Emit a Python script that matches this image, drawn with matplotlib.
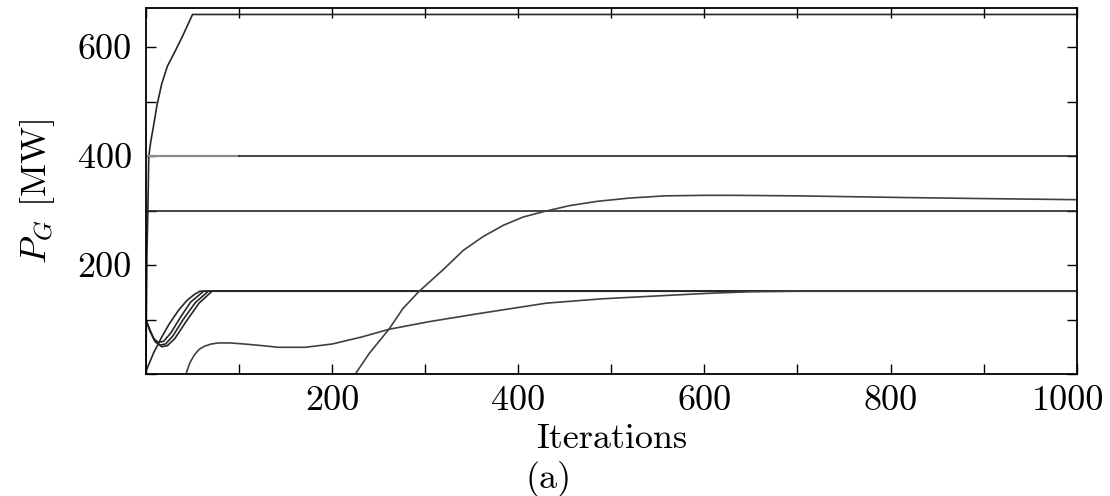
"""Generator output P_G versus iteration count, panel (a)."""

import matplotlib
matplotlib.use("Agg")
import matplotlib.pyplot as plt
from matplotlib.ticker import FuncFormatter, MultipleLocator

plt.rcParams["font.family"] = ["cmr10", "DejaVu Serif"]
plt.rcParams["mathtext.fontset"] = "cm"
plt.rcParams["axes.formatter.use_mathtext"] = True

# unit ramping up to its 660 MW limit
top_it = [0, 1, 2, 3, 5, 8, 12, 17, 23, 30, 39, 50, 1000]
top_mw = [0, 220, 295, 399, 425, 454, 495, 533, 565, 588, 619, 660, 660]

# flat units
flat400_gray_it = [0, 100]
flat400_it = [100, 1000]
flat400_mw = [400, 400]
flat300_it = [0, 1000]
flat300_mw = [300, 300]

# units converging on ~152 MW
lin_it = [0, 8, 17, 25, 35, 44, 52, 58, 1000]
lin_mw = [5, 38, 68, 92, 117, 135, 146, 152, 152]
dip_a_it = [0, 4, 8, 13, 19, 27, 37, 48, 62, 1000]
dip_a_mw = [100, 82, 66, 58, 60, 76, 104, 132, 152, 152]
dip_b_it = [0, 4, 9, 15, 21, 29, 40, 53, 67, 1000]
dip_b_mw = [99, 80, 62, 53, 55, 70, 100, 131, 152, 152]
dip_c_it = [0, 5, 10, 17, 23, 31, 43, 57, 71, 1000]
dip_c_mw = [98, 77, 59, 50, 52, 65, 96, 130, 152, 152]

# slow unit, comes online around iteration 43
slow_it = [43, 47, 52, 57, 63, 70, 78, 90, 106, 125, 142, 171, 200, 232, 261,
           304, 358, 430, 490, 557, 603, 650, 700, 1000]
slow_mw = [0, 20, 35, 45, 51, 55, 57, 57, 55, 52, 49, 49, 55, 68, 82,
           96, 111, 130, 138, 144, 148, 151, 152, 152]

# late unit, comes online around iteration 225
late_it = [225, 240, 261, 276, 293, 319, 341, 362, 384, 405, 427, 455, 485,
           520, 557, 600, 629, 700, 812, 900, 1000]
late_mw = [0, 38, 82, 120, 151, 191, 227, 252, 273, 288, 298, 309, 317,
           323, 327, 328, 328, 327, 324, 322, 320]

fig = plt.figure(figsize=(11.1, 4.96), dpi=100)
ax = fig.add_axes([0.1315, 0.246, 0.8385, 0.738])

lw = 1.2
dark = "0.15"
ax.plot(top_it, top_mw, color=dark, lw=lw)
ax.plot(flat400_gray_it, flat400_mw, color="0.55", lw=lw + 0.4)
ax.plot(flat400_it, flat400_mw, color=dark, lw=lw)
ax.plot(flat300_it, flat300_mw, color=dark, lw=lw)
for xs, ys in [(lin_it, lin_mw), (dip_a_it, dip_a_mw),
               (dip_b_it, dip_b_mw), (dip_c_it, dip_c_mw)]:
    ax.plot(xs, ys, color=dark, lw=lw)
ax.plot(slow_it, slow_mw, color="0.25", lw=lw)
ax.plot(late_it, late_mw, color="0.25", lw=lw)

ax.set_xlim(0, 1000)
ax.set_ylim(0, 672)

ax.xaxis.set_major_locator(MultipleLocator(100))
ax.yaxis.set_major_locator(MultipleLocator(100))
# label every 200; the last x label is placed by hand so it stays inside the figure
ax.xaxis.set_major_formatter(FuncFormatter(
    lambda v, pos: f"{int(v)}" if 0 < v < 1000 and int(v) % 200 == 0 else ""))
ax.yaxis.set_major_formatter(FuncFormatter(
    lambda v, pos: f"{int(v)}" if v > 0 and int(v) % 200 == 0 else ""))
ax.tick_params(direction="in", length=7, width=1.0, top=True, right=True,
               labelsize=26)
ax.tick_params(axis="x", pad=8.5)
ax.tick_params(axis="y", pad=10)
ax.annotate("1000", xy=(1000, 0), xycoords=("data", "axes fraction"),
            xytext=(-6.5, -8.5), textcoords="offset points",
            ha="center", va="top", fontsize=26)
for side in ax.spines.values():
    side.set_linewidth(1.3)

ax.set_xlabel("Iterations", fontsize=26, labelpad=4)
ax.set_ylabel(r"$P_G$ [MW]", fontsize=26, labelpad=15)
fig.text(0.4946, 0.034, "(a)", fontsize=26, ha="center", va="center")

fig.savefig("out.png", dpi=100)
